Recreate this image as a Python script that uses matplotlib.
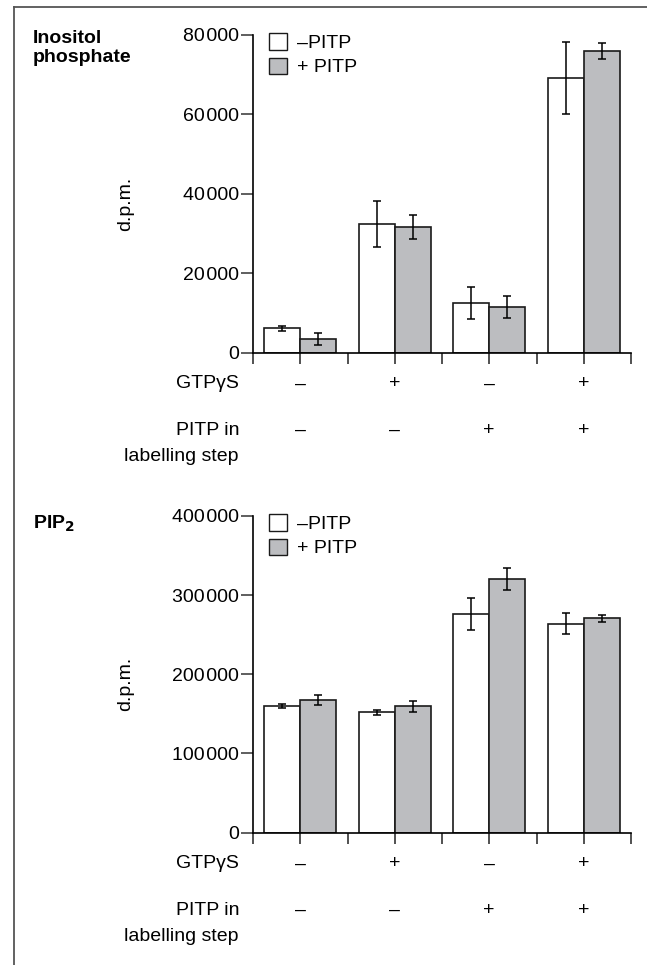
import matplotlib
matplotlib.use("Agg")
import matplotlib.pyplot as plt
import matplotlib.transforms as mtransforms
from matplotlib.patches import Patch
from matplotlib.lines import Line2D
from matplotlib.ticker import FuncFormatter
import numpy as np

plt.rcParams['font.family'] = ['Liberation Sans', 'DejaVu Sans']

# ---- data ----
groups = [1, 3, 5, 7]
gtp_row = ['\u2013', '+', '\u2013', '+']
pitp_row = ['\u2013', '\u2013', '+', '+']

ip_minus = [6100, 32300, 12500, 69200]
ip_minus_err = [600, 5800, 4000, 9000]
ip_plus = [3500, 31700, 11500, 76000]
ip_plus_err = [1500, 3000, 2750, 2000]
ip_ticks = [0, 20000, 40000, 60000, 80000]

pip_minus = [160000, 152000, 276000, 264000]
pip_minus_err = [2500, 3300, 19800, 13300]
pip_plus = [167500, 159500, 320500, 270500]
pip_plus_err = [5800, 7300, 14000, 4250]
pip_ticks = [0, 100000, 200000, 300000, 400000]

W, H = 647, 965
fig = plt.figure(figsize=(W / 100, H / 100), dpi=100)
FS = 14
GRAY = '#bcbdc0'
EDGE = '#1a1a1a'
BW = 0.76


def fmt(v, pos):
    return f"{int(v):,}".replace(',', '\u200a')


def panel(top_px, bot_px, minus, minus_err, plus, plus_err, ticks, ymax, ylab_y):
    left, right = 253 / W, 631 / W
    ax = fig.add_axes([left, 1 - bot_px / H, right - left, (bot_px - top_px) / H])
    xg = np.array(groups, dtype=float)
    ax.bar(xg - BW / 2, minus, BW, color='white', edgecolor=EDGE, linewidth=1.2, zorder=2)
    ax.bar(xg + BW / 2, plus, BW, color=GRAY, edgecolor=EDGE, linewidth=1.2, zorder=2)
    ax.errorbar(xg - BW / 2, minus, yerr=minus_err, fmt='none', ecolor='black',
                elinewidth=1.1, capsize=3, capthick=1.1, zorder=3)
    ax.errorbar(xg + BW / 2, plus, yerr=plus_err, fmt='none', ecolor='black',
                elinewidth=1.1, capsize=3, capthick=1.1, zorder=3)
    ax.set_xlim(0, 8)
    ax.set_ylim(0, ymax)
    ax.set_yticks(ticks)
    ax.yaxis.set_major_formatter(FuncFormatter(fmt))
    ax.set_xticks(range(0, 9))
    ax.set_xticklabels([])
    for s in ['top', 'right']:
        ax.spines[s].set_visible(False)
    ax.spines['left'].set_linewidth(1.2)
    ax.spines['bottom'].set_linewidth(1.2)
    ax.tick_params(axis='y', direction='out', length=8.5, width=1.1, pad=1.5,
                   labelsize=FS, color='#333333')
    ax.tick_params(axis='x', direction='out', length=8, width=1.1, color='#222222')

    ax.legend(handles=[Patch(facecolor='white', edgecolor=EDGE, linewidth=1.0, label='\u2013PITP'),
                       Patch(facecolor=GRAY, edgecolor=EDGE, linewidth=1.0, label='+ PITP')],
              loc='upper left', bbox_to_anchor=(16 / 378, 1.005), frameon=False,
              fontsize=FS, handlelength=0.95, handleheight=0.9, handletextpad=0.5,
              labelspacing=0.28, borderpad=0, borderaxespad=0)

    tr = mtransforms.blended_transform_factory(ax.transData, fig.transFigure)
    rows = [(bot_px + 31.5, 'GTP\u03b3S', gtp_row),
            (bot_px + 78.2, 'PITP in', pitp_row)]
    for ypx, lab, vals in rows:
        fig.text(239 / W, 1 - ypx / H, lab, ha='right', va='center', fontsize=FS)
        for g, v in zip(groups, vals):
            ax.text(g, 1 - ypx / H, v, transform=tr, ha='center', va='center', fontsize=FS)
    fig.text(239 / W, 1 - (bot_px + 104.3) / H, 'labelling step', ha='right', va='center', fontsize=FS)

    fig.text(126 / W, 1 - ylab_y / H, 'd.p.m.', rotation=90, ha='center', va='center', fontsize=FS)
    return ax


panel(35, 352.5, ip_minus, ip_minus_err, ip_plus, ip_plus_err, ip_ticks, 80000, 204)
panel(516, 832.5, pip_minus, pip_minus_err, pip_plus, pip_plus_err, pip_ticks, 400000, 684)

fig.text(33 / W, 1 - 30 / H, 'Inositol\nphosphate', ha='left', va='top', fontsize=FS,
         fontweight='bold', linespacing=1.15)
fig.text(33 / W, 1 - 524 / H, r'PIP$_\mathbf{2}$', ha='left', va='center', fontsize=FS,
         fontweight='bold')

# outer frame lines (top and left)
fig.add_artist(Line2D([14 / W, 1], [1 - 6.7 / H, 1 - 6.7 / H], transform=fig.transFigure,
                      color='#555555', linewidth=1.3))
fig.add_artist(Line2D([14 / W, 14 / W], [1 - 6.7 / H, 0], transform=fig.transFigure,
                      color='#555555', linewidth=1.3))

fig.savefig('out.png', dpi=100)
